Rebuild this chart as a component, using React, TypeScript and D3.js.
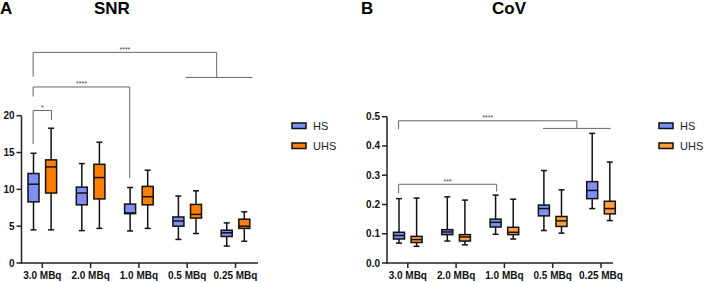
import React from "react";
import * as d3 from "d3";

const categories = ["3.0 MBq", "2.0 MBq", "1.0 MBq", "0.5 MBq", "0.25 MBq"];
const seriesNames = ["HS", "UHS"];

// [min, q1, median, q3, max]
const snrHS = [
  [4.5, 8.3, 10.7, 12.15, 14.9],
  [4.4, 7.9, 9.5, 10.3, 13.5],
  [4.35, 6.7, 6.8, 8.0, 10.25],
  [3.2, 5.0, 5.7, 6.25, 9.1],
  [2.3, 3.6, 4.1, 4.45, 5.45],
];
const snrUHS = [
  [4.5, 9.5, 13.05, 14.0, 18.3],
  [4.7, 8.7, 11.6, 13.4, 16.4],
  [4.7, 7.9, 9.0, 10.4, 12.6],
  [4.0, 6.1, 6.6, 7.95, 9.8],
  [2.95, 4.7, 5.0, 5.95, 6.95],
];
const covHS = [
  [0.068, 0.082, 0.094, 0.105, 0.22],
  [0.075, 0.097, 0.106, 0.114, 0.226],
  [0.098, 0.123, 0.139, 0.15, 0.232],
  [0.111, 0.161, 0.186, 0.198, 0.316],
  [0.186, 0.22, 0.248, 0.278, 0.443],
];
const covUHS = [
  [0.057, 0.07, 0.08, 0.091, 0.222],
  [0.062, 0.075, 0.089, 0.097, 0.215],
  [0.082, 0.097, 0.105, 0.122, 0.218],
  [0.102, 0.125, 0.144, 0.159, 0.25],
  [0.145, 0.168, 0.186, 0.211, 0.345],
];

const snrTicks = [0, 5, 10, 15, 20];
const covTicks = [0, 0.1, 0.2, 0.3, 0.4, 0.5];

// brackets: x positions in category index units, y in data units
type Bracket = { x1: number; x2: number; y: number; yl: number; yr: number; label: string; grp?: [number, number] };
const snrBrackets: Bracket[] = [
  { x1: -0.19, x2: 3.61, y: 28.6, yl: 25.3, yr: 25.2, label: "****", grp: [2.97, 4.35] },
  { x1: -0.19, x2: 1.81, y: 23.9, yl: 22.6, yr: 11.5, label: "****" },
  { x1: -0.19, x2: 0.19, y: 20.7, yl: 16.15, yr: 19.4, label: "*" },
];
const covBrackets: Bracket[] = [
  { x1: -0.19, x2: 3.5, y: 0.486, yl: 0.457, yr: 0.46, label: "****", grp: [2.8, 4.2] },
  { x1: -0.19, x2: 1.84, y: 0.269, yl: 0.239, yr: 0.244, label: "***" },
];

const FONT = "Arial, 'Liberation Sans', sans-serif";
const HS_COLOR = "#7f8ff5";

function Panel(props: {
  letter: string; title: string; x0: number; axisRight: number; yMax: number; yTop: number;
  hs: number[][]; uhs: number[][]; ticks: number[]; fmt: (v: number) => string;
  uhsColor: string; brackets: Bracket[]; letterX: number; titleX: number; legendX: number;
}) {
  const { x0, yMax, yTop, hs, uhs, ticks, fmt, uhsColor, brackets } = props;
  const y0 = 263;
  const y = d3.scaleLinear().domain([0, yMax]).range([y0, yTop]);
  const xi = d3.scaleLinear().domain([0, 1]).range([x0 + 20.8, x0 + 20.8 + 48.3]);
  const off = 8.8;
  const bw = 11;
  const cap = 3;
  const box = (d: number[], cx: number, fill: string, key: string) => (
    <g key={key} stroke="#111" strokeWidth={1.5}>
      <line x1={cx} x2={cx} y1={y(d[0])} y2={y(d[4])} />
      <line x1={cx - cap} x2={cx + cap} y1={y(d[0])} y2={y(d[0])} />
      <line x1={cx - cap} x2={cx + cap} y1={y(d[4])} y2={y(d[4])} />
      <rect x={cx - bw / 2} y={y(d[3])} width={bw} height={y(d[1]) - y(d[3])} fill={fill} />
      <line x1={cx - bw / 2} x2={cx + bw / 2} y1={y(d[2])} y2={y(d[2])} />
    </g>
  );
  return (
    <g fontFamily={FONT}>
      <text x={props.letterX} y={14} fontSize={17} fontWeight="bold">{props.letter}</text>
      <text x={props.titleX} y={14} fontSize={17} fontWeight="bold">{props.title}</text>
      {brackets.map((b, i) => (
        <g key={"b" + i} stroke="#666" strokeWidth={1} fill="none">
          <path d={`M${xi(b.x1)},${y(b.yl)}V${y(b.y)}H${xi(b.x2)}V${y(b.yr)}`} />
          {b.grp && <line x1={xi(b.grp[0])} x2={xi(b.grp[1])} y1={y(b.yr)} y2={y(b.yr)} />}
          <text x={(xi(b.x1) + xi(b.x2)) / 2} y={y(b.y) - 0.5} stroke="none" fill="#444" fontSize={7} textAnchor="middle">{b.label}</text>
        </g>
      ))}
      {categories.map((c, i) => (
        <g key={c}>
          {box(hs[i], xi(i) - off, HS_COLOR, "h")}
          {box(uhs[i], xi(i) + off, uhsColor, "u")}
        </g>
      ))}
      <g stroke="#222" strokeWidth={1.5}>
        <line x1={x0} x2={x0} y1={y0 + 0.75} y2={y(yMax)} />
        <line x1={x0} x2={props.axisRight} y1={y0} y2={y0} />
        {ticks.map((t) => (
          <line key={t} x1={x0 - 5} x2={x0} y1={y(t)} y2={y(t)} />
        ))}
        {categories.map((c, i) => (
          <line key={c} x1={xi(i)} x2={xi(i)} y1={y0} y2={y0 + 5} />
        ))}
      </g>
      {ticks.map((t) => (
        <text key={t} x={x0 - 7} y={y(t) + 3.5} fontSize={10} fontWeight="bold" textAnchor="end" fill="#111">{fmt(t)}</text>
      ))}
      {categories.map((c, i) => (
        <text key={c} x={xi(i)} y={279} fontSize={10} fontWeight="bold" textAnchor="middle" fill="#111">{c}</text>
      ))}
      {seriesNames.map((s, i) => (
        <g key={s}>
          <rect x={props.legendX} y={123 + i * 20} width={14} height={5.5} fill={i === 0 ? HS_COLOR : uhsColor} stroke="#111" strokeWidth={1.5} />
          <text x={props.legendX + 21} y={129.5 + i * 20} fontSize={11} fill="#222">{s}</text>
        </g>
      ))}
    </g>
  );
}

export default function App() {
  return (
    <svg width={709} height={283} style={{ display: "block", position: "absolute", left: 0, top: 0 }}>
      <rect width={709} height={283} fill="#fff" />
      <Panel letter="A" title="SNR" x0={21.5} axisRight={258} yMax={20} yTop={115.7}
        hs={snrHS} uhs={snrUHS} ticks={snrTicks} fmt={(v) => String(v)} uhsColor="#ff8000"
        brackets={snrBrackets} letterX={0} titleX={94} legendX={292} />
      <Panel letter="B" title="CoV" x0={387} axisRight={613} yMax={0.5} yTop={116.7}
        hs={covHS} uhs={covUHS} ticks={covTicks} fmt={(v) => v.toFixed(1)} uhsColor="#ffa040"
        brackets={covBrackets} letterX={361} titleX={492} legendX={659} />
    </svg>
  );
}
